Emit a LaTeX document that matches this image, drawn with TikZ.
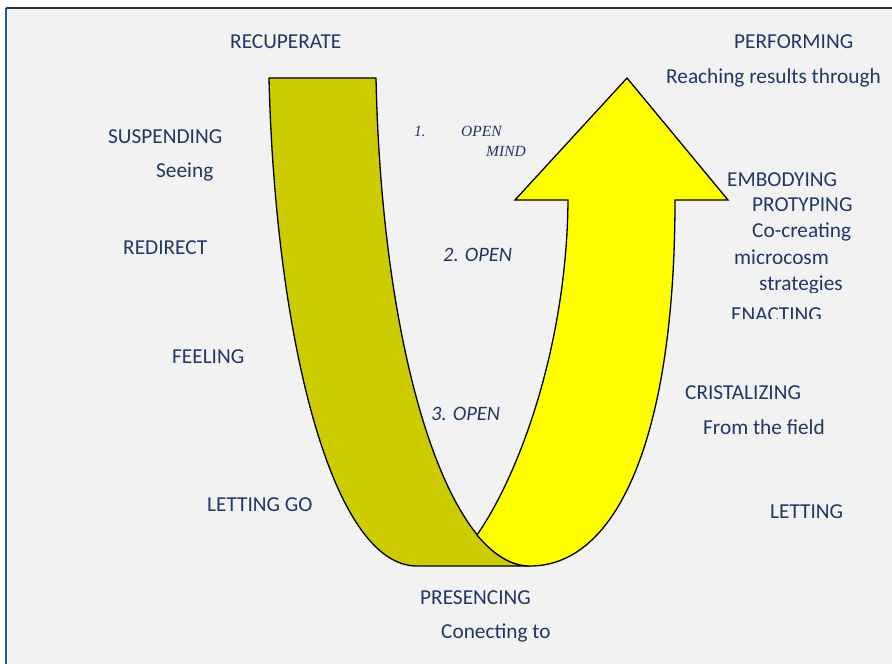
\documentclass[tikz,border=0pt]{standalone}
\usepackage{fontspec}
\setmainfont{Carlito}
\newfontfamily\serifit{Liberation Serif}
\definecolor{navy}{HTML}{1F3864}
\definecolor{bandDark}{HTML}{CCCC00}
\definecolor{bandLight}{HTML}{FFFF00}
\definecolor{panelbg}{HTML}{F2F2F2}
\definecolor{leftrule}{HTML}{1F5F8F}
\definecolor{toprule}{HTML}{333333}
\begin{document}
\begin{tikzpicture}[x=1pt,y=-1pt,
  lab/.style={text=navy,font=\fontsize{21.3}{25}\selectfont,inner sep=0pt,anchor=base west},
  labit/.style={lab,font=\fontsize{20.5}{24}\selectfont\itshape},
  labser/.style={lab,font=\fontsize{15.5}{18}\selectfont\serifit\itshape},
  band/.style={draw=black,line width=1.3pt,line join=round}]
\useasboundingbox (0,0) rectangle (892,664);
\fill[white] (0,0) rectangle (892,664);
\fill[panelbg] (6,8) rectangle (892,664);
\draw[leftrule,line width=1.5pt] (6,664) -- (6,8);
\draw[toprule,line width=1.2pt] (6,8) -- (892,8);

% dark band (left arm of the U)
\draw[band,fill=bandDark] (269,78) -- (376,78)
  .. controls (382,360) and (450,566) .. (530,566) -- (417,566)
  .. controls (330,566) and (275,330) .. (269,78) -- cycle;

% yellow arrow (right arm of the U)
\draw[band,fill=bandLight,line join=miter] (477,535)
  .. controls (522,470) and (567,340) .. (568,200) -- (515,200) -- (627,78)
  -- (728,200) -- (675,200)
  .. controls (675,430) and (620,566) .. (530,566)
  .. controls (511.6,566) and (493.8,555.1) .. (477,535) -- cycle;

% labels
\node[lab] (recup) at (230,48.5) {RECUPERATE};
\node[lab] (perf) at (734,48.5) {PERFORMING};
\node[lab] (reach) at (666,83.5) {Reaching results through};
\node[lab] (susp) at (108,143.5) {SUSPENDING};
\node[lab] (seeing) at (156,177.5) {Seeing};
\node[lab] (redir) at (123,254.5) {REDIRECT};
\node[lab] (feel) at (172,363.5) {FEELING};
\node[lab] (embod) at (727,186.5) {EMBODYING};
\node[lab] (proto) at (752,211.5) {PROTYPING};
\node[lab] (cocr) at (752,237.5) {Co-creating};
\node[lab] (micro) at (734,264) {microcosm};
\begin{scope}
  \clip (700,270) rectangle (892,292);
  \node[lab] (strat) at (759,290) {strategies};
\end{scope}
\begin{scope}
  \clip (700,300) rectangle (892,318.5);
  \node[lab] (enact) at (731,321) {ENACTING};
\end{scope}
\node[lab] (crist) at (685,399.5) {CRISTALIZING};
\node[lab] (field) at (703,434.5) {From the field};
\node[lab] (letgo) at (207,511.5) {LETTING GO};
\node[lab] (letting) at (770,518.5) {LETTING};
\node[lab] (pres) at (420,604.5) {PRESENCING};
\node[lab] (conn) at (441,638.5) {Conecting to};
\node[labit] (open2) at (443,261.5) {2. OPEN};
\node[labit] (open3) at (431,420.5) {3. OPEN};
\node[labser] (one) at (414,136.5) {1.};
\node[labser] (open1) at (461,136.5) {OPEN};
\node[labser] (mind) at (486,156) {MIND};
\end{tikzpicture}
\end{document}
